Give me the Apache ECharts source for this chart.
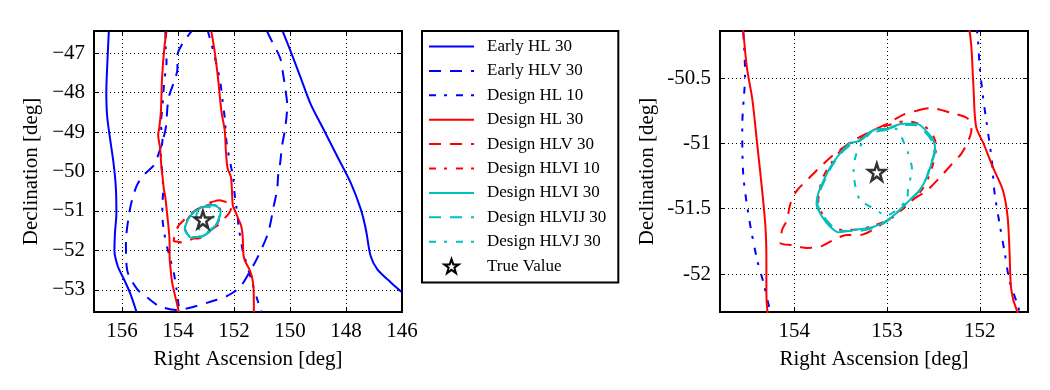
<!DOCTYPE html>
<html>
<head>
<meta charset="utf-8">
<script src="https://cdn.jsdelivr.net/npm/echarts@6/dist/echarts.min.js"></script>
<style>
  html, body { margin: 0; padding: 0; background: #fff; }
  #chart { width: 1050px; height: 390px; }
</style>
</head>
<body>
<div id="chart"></div>
<script>
// contour data, [RA, Dec] in degrees
const earlyHL30Left = [[156.47,-46.45],[156.53,-47.35],[156.56,-48.0],[156.53,-48.6],[156.42,-49.2],[156.30,-49.8],[156.22,-50.4],[156.20,-51.05],[156.25,-51.55],[156.27,-52.0],[156.15,-52.4],[155.93,-52.73],[155.70,-53.1],[155.48,-53.56]];
const earlyHL30Right = [[150.26,-46.45],[149.99,-46.93],[149.63,-47.6],[149.27,-48.28],[148.79,-48.95],[148.31,-49.62],[147.83,-50.29],[147.47,-50.96],[147.29,-51.47],[147.12,-52.14],[146.88,-52.48],[146.40,-52.81],[146.0,-53.06]];
const earlyHLV30 = [[150.82,-46.45],[150.64,-46.71],[150.35,-47.13],[150.24,-47.56],[150.17,-47.89],[150.10,-48.32],[150.17,-48.90],[150.28,-49.33],[150.35,-49.78],[150.42,-50.08],[150.46,-50.46],[150.57,-50.84],[150.78,-51.55],[151.14,-52.15],[151.43,-52.53],[151.79,-52.93],[152.26,-53.16],[152.76,-53.28],[153.34,-53.41],[154.06,-53.51],[154.67,-53.41],[155.03,-53.23],[155.46,-52.98],[155.82,-52.48],[155.86,-51.80],[155.75,-51.09],[155.64,-50.72],[155.46,-50.34],[155.21,-50.08],[154.85,-49.83],[154.67,-49.50],[154.49,-49.07],[154.42,-48.82],[154.38,-48.39],[154.31,-48.07],[154.13,-47.71],[154.02,-47.39],[154.02,-47.06],[153.84,-46.76],[153.52,-46.45]];
const designHL10Left = [[154.45,-46.45],[154.45,-46.72],[154.41,-47.21],[154.49,-47.71],[154.55,-48.31],[154.61,-48.82],[154.55,-49.15],[154.61,-49.57],[154.55,-50.14],[154.53,-50.47],[154.56,-50.87],[154.55,-51.23],[154.49,-51.56],[154.40,-51.89],[154.33,-52.07],[154.27,-52.25],[154.18,-52.45],[154.05,-53.0],[153.95,-53.56]];
const designHL10Right = [[152.93,-46.45],[152.72,-47.0],[152.50,-47.7],[152.39,-48.31],[152.33,-48.65],[152.27,-49.23],[152.15,-49.73],[152.03,-50.14],[152.0,-50.42],[151.96,-50.67],[151.91,-50.92],[151.87,-51.13],[151.84,-51.38],[151.78,-51.64],[151.73,-51.84],[151.68,-52.05],[151.60,-52.22],[151.40,-52.7],[151.13,-53.33],[151.02,-53.56]];
const designHL30Left = [[154.41,-46.45],[154.49,-46.88],[154.57,-47.64],[154.61,-48.47],[154.67,-48.9],[154.71,-49.07],[154.64,-49.4],[154.59,-49.91],[154.55,-50.14],[154.51,-50.42],[154.45,-50.67],[154.40,-51.0],[154.35,-51.33],[154.31,-51.64],[154.30,-51.89],[154.30,-52.14],[154.29,-52.28],[154.21,-52.81],[154.05,-53.31],[153.97,-53.56]];
const designHL30Right = [[152.81,-46.45],[152.69,-46.96],[152.57,-47.64],[152.45,-48.47],[152.33,-48.97],[152.29,-49.48],[152.23,-49.91],[152.11,-50.14],[152.07,-50.54],[152.04,-50.87],[151.96,-51.0],[151.86,-51.18],[151.75,-51.36],[151.70,-51.56],[151.68,-51.81],[151.66,-52.12],[151.60,-52.28],[151.45,-52.48],[151.35,-52.7],[151.30,-52.98],[151.29,-53.56]];
const designHLV30 = [[152.68,-50.75],[152.54,-50.73],[152.29,-50.77],[152.13,-50.81],[152.09,-50.90],[152.13,-50.99],[152.20,-51.08],[152.29,-51.15],[152.43,-51.26],[152.57,-51.36],[152.72,-51.43],[152.86,-51.51],[153.0,-51.59],[153.15,-51.66],[153.29,-51.70],[153.43,-51.70],[153.58,-51.74],[153.72,-51.79],[153.86,-51.80],[154.01,-51.78],[154.15,-51.76],[154.13,-51.66],[154.08,-51.59],[154.04,-51.46],[153.97,-51.36],[153.86,-51.28],[153.72,-51.18],[153.58,-51.09],[153.43,-51.01],[153.29,-50.95],[153.15,-50.90],[153.0,-50.85],[152.82,-50.78],[152.68,-50.75]];
const designHLVI10 = [[153.02,-50.87],[152.80,-50.83],[152.62,-50.86],[152.52,-50.92],[152.47,-51.02],[152.50,-51.15],[152.60,-51.33],[152.75,-51.45],[152.95,-51.57],[153.15,-51.63],[153.35,-51.66],[153.53,-51.66],[153.68,-51.56],[153.74,-51.44],[153.70,-51.28],[153.60,-51.15],[153.45,-51.02],[153.25,-50.95],[153.10,-50.88],[153.02,-50.87]];
const designHLVI30 = [[153.0,-50.89],[152.82,-50.85],[152.68,-50.85],[152.57,-50.91],[152.50,-50.98],[152.48,-51.05],[152.52,-51.15],[152.57,-51.26],[152.65,-51.36],[152.75,-51.43],[152.86,-51.51],[153.0,-51.59],[153.15,-51.64],[153.33,-51.66],[153.52,-51.68],[153.61,-51.64],[153.70,-51.56],[153.76,-51.46],[153.74,-51.38],[153.68,-51.28],[153.61,-51.18],[153.51,-51.08],[153.40,-51.0],[153.29,-50.98],[153.18,-50.91],[153.08,-50.89],[153.0,-50.89]];
const designHLVIJ30 = [[153.02,-50.90],[152.84,-50.86],[152.70,-50.86],[152.58,-50.92],[152.51,-50.99],[152.49,-51.06],[152.53,-51.16],[152.58,-51.27],[152.66,-51.37],[152.77,-51.44],[152.88,-51.52],[153.01,-51.60],[153.16,-51.65],[153.33,-51.67],[153.51,-51.67],[153.60,-51.63],[153.69,-51.55],[153.75,-51.46],[153.73,-51.38],[153.67,-51.28],[153.60,-51.18],[153.50,-51.08],[153.39,-51.01],[153.28,-50.97],[153.17,-50.92],[153.02,-50.90]];
const designHLVJ30 = [[153.08,-50.89],[152.90,-50.89],[152.82,-50.99],[152.77,-51.08],[152.73,-51.20],[152.77,-51.33],[152.79,-51.43],[152.90,-51.51],[153.0,-51.55],[153.14,-51.50],[153.29,-51.43],[153.34,-51.33],[153.36,-51.20],[153.33,-51.08],[153.25,-50.98],[153.15,-50.90],[153.08,-50.89]];
const trueValue = [[153.11, -51.22]];

const legendNames = ['Early HL 30', 'Early HLV 30', 'Design HL 10', 'Design HL 30', 'Design HLV 30',
  'Design HLVI 10', 'Design HLVI 30', 'Design HLVIJ 30', 'Design HLVJ 30', 'True Value'];

const BLUE = '#0000ff', RED = '#ff0000', CYAN = '#00bfbf';
const DASH = [12, 9], DASHDOT = [7, 8, 3, 9];
const FONT = 'Liberation Serif';
const STAR = 'path://M50,2 L61.5,36 L97,36 L68.5,57.5 L79,92 L50,71 L21,92 L31.5,57.5 L3,36 L38.5,36 Z';

const chart = echarts.init(document.getElementById('chart'));

function line(name, data, color, type, panel) {
  return {
    type: 'line', name: name, data: data,
    xAxisIndex: panel * 2, yAxisIndex: panel * 2,
    symbol: 'none', showSymbol: false, smooth: 0.3, clip: true,
    lineStyle: { color: color, width: 2, type: type },
    itemStyle: { color: color },
    animation: false
  };
}

function panelSeries(p) {
  return [
    line('Early HL 30', earlyHL30Left, BLUE, 'solid', p),
    line('Early HL 30', earlyHL30Right, BLUE, 'solid', p),
    line('Early HLV 30', earlyHLV30, BLUE, DASH, p),
    line('Design HL 10', designHL10Left, BLUE, DASHDOT, p),
    line('Design HL 10', designHL10Right, BLUE, DASHDOT, p),
    line('Design HL 30', designHL30Left, RED, 'solid', p),
    line('Design HL 30', designHL30Right, RED, 'solid', p),
    line('Design HLV 30', designHLV30, RED, DASH, p),
    line('Design HLVI 10', designHLVI10, RED, DASHDOT, p),
    line('Design HLVIJ 30', designHLVIJ30, CYAN, DASH, p),
    line('Design HLVI 30', designHLVI30, CYAN, 'solid', p),
    line('Design HLVJ 30', designHLVJ30, CYAN, DASHDOT, p),
    {
      type: 'scatter', name: 'True Value', data: trueValue,
      xAxisIndex: p * 2, yAxisIndex: p * 2,
      symbol: STAR, symbolSize: 17, z: 5,
      itemStyle: { color: '#fff', borderColor: '#000', borderWidth: 2.5 },
      animation: false
    }
  ];
}

const labelStyle = { fontFamily: FONT, fontSize: 21, color: '#000' };
const gridLine = { show: true, lineStyle: { color: '#000', width: 1, type: [1, 3] } };
const tickIn = { show: true, inside: true, length: 5, lineStyle: { color: '#000', width: 1 } };

function xAxes(grid, min, max, extra) {
  const main = Object.assign({
    type: 'value', gridIndex: grid, min: min, max: max, inverse: true, position: 'bottom',
    axisLine: { show: false }, axisTick: tickIn, splitLine: gridLine,
    axisLabel: Object.assign({ margin: 9, showMinLabel: false, showMaxLabel: false }, labelStyle),
    name: 'Right Ascension [deg]', nameLocation: 'middle', nameGap: 37,
    nameTextStyle: labelStyle
  }, extra);
  const top = Object.assign({}, main, {
    position: 'top', axisLabel: { show: false }, splitLine: { show: false }, name: ''
  });
  return [main, top];
}

function yAxes(grid, min, max, extra, gap) {
  const main = Object.assign({
    type: 'value', gridIndex: grid, min: min, max: max, position: 'left',
    axisLine: { show: false }, axisTick: tickIn, splitLine: gridLine,
    axisLabel: Object.assign({ margin: 9, showMinLabel: false, showMaxLabel: false }, labelStyle),
    name: 'Declination [deg]', nameLocation: 'middle', nameGap: gap,
    nameTextStyle: labelStyle
  }, extra);
  const right = Object.assign({}, main, {
    position: 'right', axisLabel: { show: false }, splitLine: { show: false }, name: ''
  });
  return [main, right];
}

chart.setOption({
  backgroundColor: '#fff',
  animation: false,
  grid: [
    { left: 94, top: 31, width: 308, height: 281, show: true, borderColor: '#000', borderWidth: 2, backgroundColor: 'transparent' },
    { left: 720, top: 31, width: 308, height: 281, show: true, borderColor: '#000', borderWidth: 2, backgroundColor: 'transparent' }
  ],
  legend: {
    data: legendNames.map(n => n === 'True Value' ? { name: n, itemStyle: { opacity: 1 } } : n),
    orient: 'vertical',
    left: 422, top: 31,
    padding: [7, 12, 8, 6],
    itemWidth: 45, itemHeight: 14, itemGap: 7.4,
    borderColor: '#000', borderWidth: 2, borderRadius: 0,
    backgroundColor: '#fff',
    selectedMode: false,
    itemStyle: { opacity: 0 },
    textStyle: { fontFamily: FONT, fontSize: 17, color: '#000', padding: [0, 0, 0, 8] }
  },
  xAxis: [
    ...xAxes(0, 146, 157, { interval: 2, axisLabel: Object.assign({ margin: 9, showMinLabel: true, showMaxLabel: false }, labelStyle) }),
    ...xAxes(1, 151.48, 154.8, { minInterval: 1, maxInterval: 1 })
  ],
  yAxis: [
    ...yAxes(0, -53.56, -46.44, {
      minInterval: 1, maxInterval: 1,
      axisLabel: Object.assign({ margin: 9, showMinLabel: false, showMaxLabel: false,
        formatter: v => (v < 0 ? '\u2212' : '') + Math.abs(v) }, labelStyle)
    }, 52),
    ...yAxes(1, -52.29, -50.14, { minInterval: 0.5, maxInterval: 0.5 }, 62)
  ],
  series: [...panelSeries(0), ...panelSeries(1)]
});
</script>
</body>
</html>
